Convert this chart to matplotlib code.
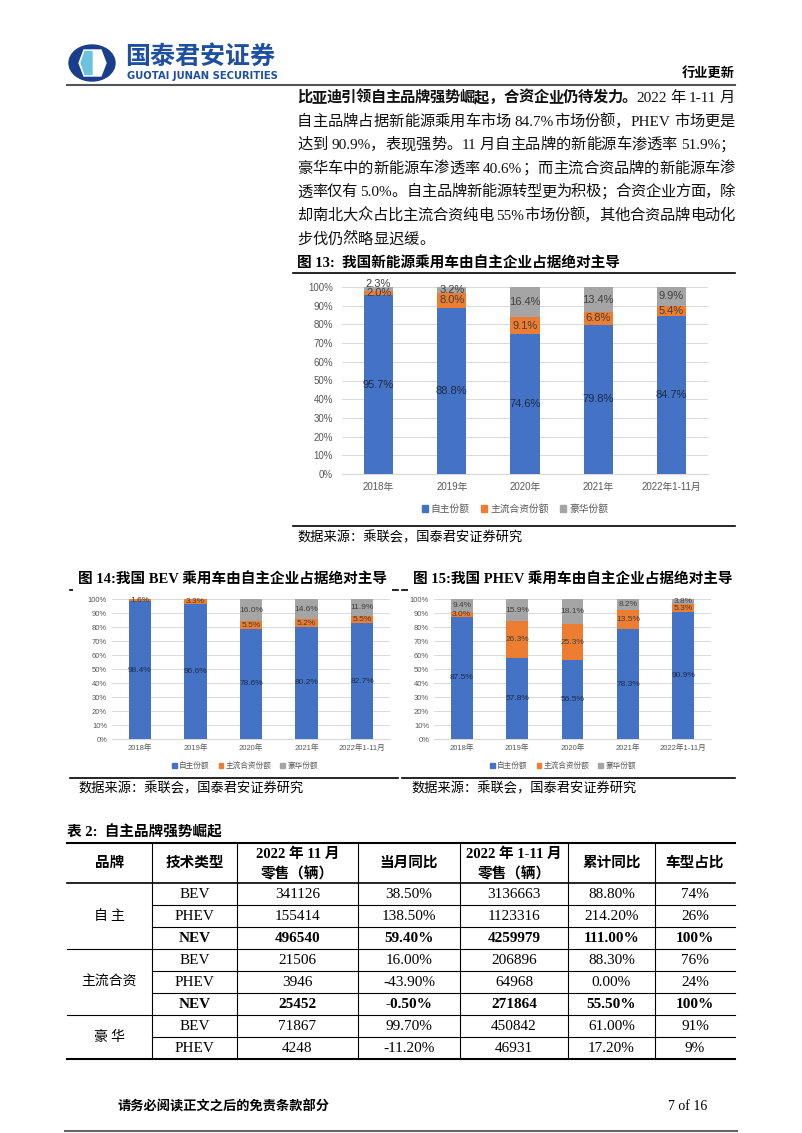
import re
import numpy as np
import matplotlib
matplotlib.use('Agg')
import matplotlib.pyplot as plt
from matplotlib.transforms import Affine2D
from matplotlib.lines import Line2D
from matplotlib.patches import Ellipse, Polygon, Patch

# ---- data ----
years = ['2018年', '2019年', '2020年', '2021年', '2022年1-11月']
series_names = ['自主份额', '主流合资份额', '豪华份额']

nev_own = [95.7, 88.8, 74.6, 79.8, 84.7]
nev_jv = [2.0, 8.0, 9.1, 6.8, 5.4]
nev_lux = [2.3, 3.2, 16.4, 13.4, 9.9]

bev_own = [98.4, 96.6, 78.6, 80.2, 82.7]
bev_jv = [1.6, 3.3, 5.5, 5.2, 5.5]
bev_lux = [0.0, 0.1, 16.0, 14.6, 11.9]

phev_own = [87.5, 57.8, 56.5, 78.3, 90.9]
phev_jv = [3.0, 26.3, 25.3, 13.5, 5.3]
phev_lux = [9.4, 15.9, 18.1, 8.2, 3.8]

brands = ['自 主', '主流合资', '豪 华']
brand_rows = [3, 3, 2]
tech = ['BEV', 'PHEV', 'NEV', 'BEV', 'PHEV', 'NEV', 'BEV', 'PHEV']
nov_sales = [341126, 155414, 496540, 21506, 3946, 25452, 71867, 4248]
nov_yoy = [38.5, 138.5, 59.4, 16.0, -43.9, -0.5, 99.7, -11.2]
ytd_sales = [3136663, 1123316, 4259979, 206896, 64968, 271864, 450842, 46931]
ytd_yoy = [88.8, 214.2, 111.0, 88.3, 0.0, 55.5, 61.0, 17.2]
model_share = [74, 26, 100, 76, 24, 100, 91, 9]

para = [
    [('比亚迪引领自主品牌强势崛起，合资企业仍待发力。', 'bold'), ('2022 年 1-11 月', 'normal')],
    [('自主品牌占据新能源乘用车市场 84.7%市场份额，PHEV 市场更是', 'normal')],
    [('达到 90.9%，表现强势。11 月自主品牌的新能源车渗透率 51.9%；', 'normal')],
    [('豪华车中的新能源车渗透率 40.6%；而主流合资品牌的新能源车渗', 'normal')],
    [('透率仅有 5.0%。自主品牌新能源转型更为积极；合资企业方面，除', 'normal')],
    [('却南北大众占比主流合资纯电 55%市场份额，其他合资品牌电动化', 'normal')],
    [('步伐仍然略显迟缓。', 'normal')],
]

BLUE, ORANGE, GRAY = '#4472C4', '#ED7D31', '#A5A5A5'
SANS = ['Liberation Sans', 'Noto Sans CJK SC']
SERIF = ['Liberation Serif', 'Noto Sans CJK SC']
CJK = ['Noto Sans CJK SC', 'DejaVu Sans']

W, H = 802, 1133
fig = plt.figure(figsize=(W / 100, H / 100), dpi=100)
fig.patch.set_facecolor('white')
tr = Affine2D().scale(1 / W, -1 / H).translate(0, 1) + fig.transFigure
renderer = fig.canvas.get_renderer()


def txt(x, y, s, **kw):
    return fig.text(x, y, s, transform=tr, **kw)


def hline(x0, x1, y, lw=0.8, color='black'):
    fig.add_artist(Line2D([x0, x1], [y, y], transform=tr, color=color, lw=lw))


def vline(x, y0, y1, lw=0.8, color='black'):
    fig.add_artist(Line2D([x, x], [y0, y1], transform=tr, color=color, lw=lw))


def measure(s, **kw):
    t = txt(0, 0, s, **kw)
    w = t.get_window_extent(renderer).width
    t.remove()
    return w


def para_line(y, parts, x0, x1, justify=True, size=11):
    toks = []
    for s, wt in parts:
        for m in re.finditer(r'[A-Za-z0-9%.\-]+|\S', s):
            sp = m.start() > 0 and s[m.start() - 1] == ' '
            toks.append((m.group(), wt, sp))
    widths = [measure(t, fontsize=size, weight=wt, family=SERIF) for t, wt, sp in toks]
    space = size * 100 / 72 * 0.25
    base = sum(widths) + sum(space for t in toks[1:] if t[2])
    extra = (x1 - x0 - base) / (len(toks) - 1) if justify else 0
    x = x0
    for i, (t, wt, sp) in enumerate(toks):
        if i > 0:
            x += extra + (space if sp else 0)
        txt(x, y, t, fontsize=size, weight=wt, family=SERIF, va='baseline',
            ha='left', color='#111111')
        x += widths[i]


# ---- page header ----
fig.add_artist(Ellipse((92, 63), 46, 36, transform=tr, color='#1a3e8c'))
fig.add_artist(Polygon([(84, 50), (101, 50), (106, 63), (101, 76), (84, 76), (79, 63)],
                       closed=True, transform=tr, color='white'))
fig.add_artist(Polygon([(85, 51.5), (92, 51.5), (92, 74.5), (85, 74.5), (81, 63)],
                       closed=True, transform=tr, color='#6cc3e0'))
txt(125, 57, '国泰君安证券', fontsize=18, weight='bold', family=CJK, color='#1f4fa0',
    va='center')
txt(127, 76, 'GUOTAI JUNAN SECURITIES', fontsize=7.2, weight='bold',
    family='DejaVu Sans', color='#1f4fa0', va='center')
txt(735, 73, '行业更新', fontsize=9.5, weight='bold', family=CJK, ha='right', va='center')
hline(67, 735, 85, lw=1.5, color='#555555')

# ---- paragraph ----
for i, parts in enumerate(para):
    para_line(102 + 23.6 * i, parts, 297, 735, justify=(i < len(para) - 1))


# ---- charts ----
def draw_chart(box, own, jv, lux, bw, fs_lab, fs_tick, ypad, xpad, leg_xy, fs_leg):
    l, t, r, b = box
    ax = fig.add_axes([l / W, 1 - b / H, (r - l) / W, (b - t) / H])
    x = np.arange(len(years))
    bot2 = [a + c for a, c in zip(own, jv)]
    ax.bar(x, own, bw, color=BLUE, label=series_names[0], zorder=3)
    ax.bar(x, jv, bw, bottom=own, color=ORANGE, label=series_names[1], zorder=3)
    ax.bar(x, lux, bw, bottom=bot2, color=GRAY, label=series_names[2], zorder=3)
    for i in range(len(years)):
        ax.text(i, own[i] / 2, f'{own[i]:.1f}%', ha='center', va='center',
                fontsize=fs_lab, color='#1c2b4a', family=SANS, zorder=4)
        if jv[i] >= 0.5:
            ax.text(i, own[i] + jv[i] / 2, f'{jv[i]:.1f}%', ha='center', va='center',
                    fontsize=fs_lab, color='#404040', family=SANS, zorder=4)
        if lux[i] >= 0.5:
            # thin grey caps get their label nudged above the bar top
            yl = bot2[i] + lux[i] / 2 if lux[i] >= 3 else bot2[i] + lux[i] + 1.5
            ax.text(i, yl, f'{lux[i]:.1f}%', ha='center', va='center',
                    fontsize=fs_lab, color='#404040', family=SANS, zorder=4)
    ax.set_xlim(-0.5, len(years) - 0.5)
    ax.set_ylim(0, 100)
    ax.set_yticks(range(0, 101, 10))
    ax.set_yticklabels([f'{v}%' for v in range(0, 101, 10)])
    ax.set_xticks(x)
    ax.set_xticklabels(years)
    ax.grid(axis='y', color='#d9d9d9', lw=0.7)
    ax.set_axisbelow(True)
    for s in ['top', 'left', 'right']:
        ax.spines[s].set_visible(False)
    ax.spines['bottom'].set_color('#d9d9d9')
    ax.tick_params(length=0, colors='#595959', labelsize=fs_tick)
    ax.tick_params(axis='y', pad=ypad)
    ax.tick_params(axis='x', pad=xpad)
    for lab in ax.get_xticklabels() + ax.get_yticklabels():
        lab.set_family(SANS)
    handles = [Patch(color=c) for c in (BLUE, ORANGE, GRAY)]
    ax.legend(handles, series_names, loc='center',
              bbox_to_anchor=(leg_xy[0] / W, 1 - leg_xy[1] / H),
              bbox_transform=fig.transFigure, ncol=3, frameon=False,
              prop={'family': SANS, 'size': fs_leg}, labelcolor='#595959',
              handlelength=0.6, handleheight=0.6, handletextpad=0.3,
              columnspacing=1.2)
    return ax


# figure 13
txt(297, 264, '图 13:  我国新能源乘用车由自主企业占据绝对主导', fontsize=10.5,
    weight='bold', family=SERIF, va='center')
hline(293, 735, 273, lw=1.2)
draw_chart((342, 287, 708, 474), nev_own, nev_jv, nev_lux, 0.4, 8, 7, 6.5, 6,
           (515, 509), 7)
hline(293, 735, 526, lw=1.2)
txt(297, 538, '数据来源：乘联会，国泰君安证券研究', fontsize=9.5, family=CJK, va='center')

# figure 14 / 15
hline(70, 398, 590, lw=1.2)
hline(402, 735, 590, lw=1.2)
txt(78, 580, '图 14:我国 BEV 乘用车由自主企业占据绝对主导', fontsize=10.5,
    weight='bold', family=SERIF, va='center', zorder=5,
    bbox=dict(facecolor='white', edgecolor='none', pad=3.5))
txt(413, 580, '图 15:我国 PHEV 乘用车由自主企业占据绝对主导', fontsize=10.5,
    weight='bold', family=SERIF, va='center', zorder=5,
    bbox=dict(facecolor='white', edgecolor='none', pad=3.5))
draw_chart((112, 599, 390, 739), bev_own, bev_jv, bev_lux, 0.4, 6, 5.5, 3.5, 4,
           (245, 766), 5.5)
draw_chart((434, 599, 711, 739), phev_own, phev_jv, phev_lux, 0.39, 6, 5.5, 3.5, 4,
           (563, 766), 5.5)
hline(70, 398, 778, lw=1.2)
hline(402, 735, 778, lw=1.2)
txt(78, 789, '数据来源：乘联会，国泰君安证券研究', fontsize=9.5, family=CJK, va='center')
txt(411, 789, '数据来源：乘联会，国泰君安证券研究', fontsize=9.5, family=CJK, va='center')

# ---- table ----
txt(67, 832, '表 2:  自主品牌强势崛起', fontsize=10.5, weight='bold', family=SERIF,
    va='center')
cols = [67, 152, 237, 358, 460, 568, 655, 735]
cx = [(a + b) / 2 for a, b in zip(cols[:-1], cols[1:])]
top, head_bot, rh = 843, 883, 22
hline(cols[0], cols[-1], top, lw=1.5)
hline(cols[0], cols[-1], head_bot, lw=1.2)
for c in cols[1:-1]:
    vline(c, top, head_bot + rh * len(tech), lw=0.8)

hdr_kw = dict(fontsize=10.5, weight='bold', family=SERIF, ha='center', va='center')
txt(cx[0], 863, '品牌', **hdr_kw)
txt(cx[1], 863, '技术类型', **hdr_kw)
txt(cx[2], 854, '2022 年 11 月', **hdr_kw)
txt(cx[2], 874, '零售（辆）', **hdr_kw)
txt(cx[3], 863, '当月同比', **hdr_kw)
txt(cx[4], 854, '2022 年 1-11 月', **hdr_kw)
txt(cx[4], 874, '零售（辆）', **hdr_kw)
txt(cx[5], 863, '累计同比', **hdr_kw)
txt(cx[6], 863, '车型占比', **hdr_kw)

row = 0
for name, n in zip(brands, brand_rows):
    y0 = head_bot + rh * row
    txt(cx[0], y0 + rh * n / 2, name, fontsize=10, family=CJK, ha='center', va='center')
    for k in range(n):
        r = row + k
        yc = head_bot + rh * r + rh / 2
        wt = 'bold' if tech[r] == 'NEV' else 'normal'
        vals = [tech[r], f'{nov_sales[r]}', f'{nov_yoy[r]:.2f}%', f'{ytd_sales[r]}',
                f'{ytd_yoy[r]:.2f}%', f'{model_share[r]}%']
        for j, v in enumerate(vals):
            txt(cx[j + 1], yc, v, fontsize=11, weight=wt, family=SERIF,
                ha='center', va='center')
        yb = head_bot + rh * (r + 1)
        if k < n - 1:
            hline(cols[1], cols[-1], yb, lw=0.8)
        elif r < len(tech) - 1:
            hline(cols[0], cols[-1], yb, lw=0.8)
        else:
            hline(cols[0], cols[-1], yb, lw=1.5)
    row += n

# ---- footer ----
txt(117, 1107, '请务必阅读正文之后的免责条款部分', fontsize=9.5, weight='bold',
    family=CJK, va='center')
txt(707, 1107, '7 of 16', fontsize=10, family=SERIF, ha='right', va='center')
hline(65, 737, 1131, lw=1.5, color='#666666')

fig.savefig('out.png', dpi=100)
